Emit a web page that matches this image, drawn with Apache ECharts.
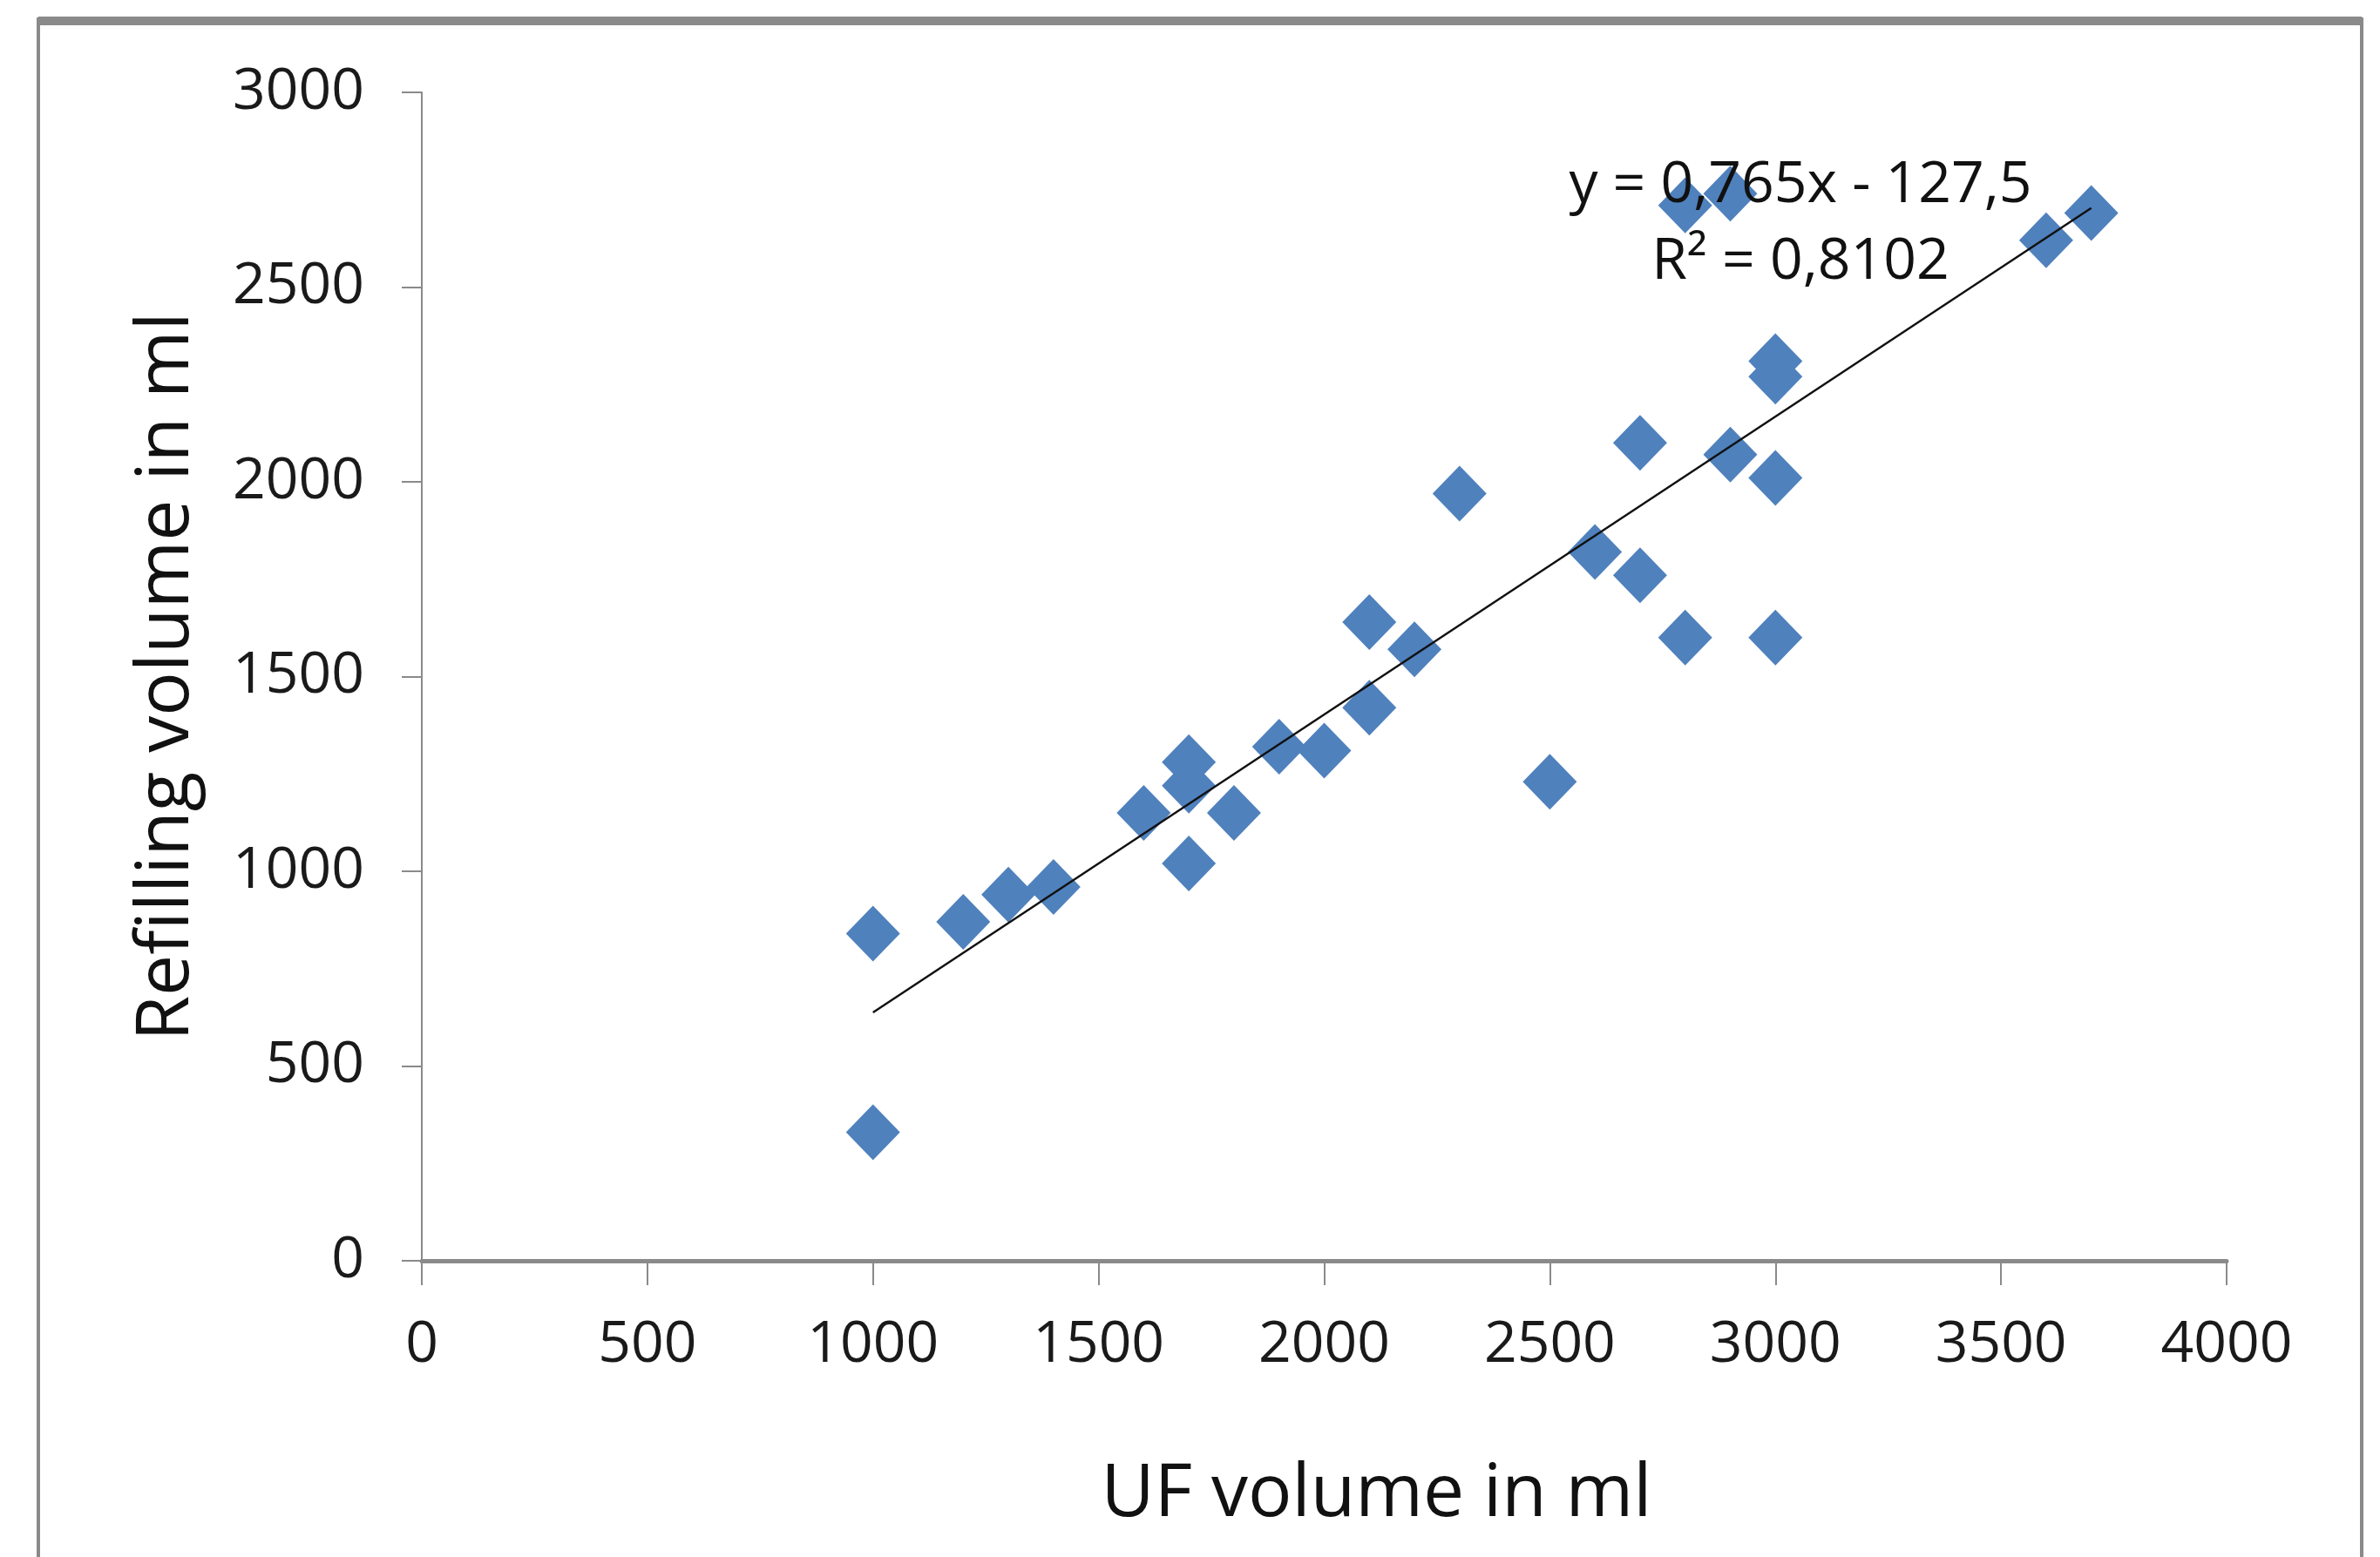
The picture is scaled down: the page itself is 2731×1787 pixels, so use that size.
<!DOCTYPE html>
<html>
<head>
<meta charset="utf-8">
<script src="https://cdn.jsdelivr.net/npm/echarts@6/dist/echarts.min.js"></script>
<style>
html,body{margin:0;padding:0;background:#fff;}
#chart{width:2731px;height:1787px;}
</style>
</head>
<body>
<div id="chart"></div>
<script>
// UF volume (x) and refilling volume (y)
const ufVolume = [1000,1000,1200,1300,1400,1600,1700,1700,1700,1800,1900,2000,2100,2100,2200,2300,2500,2600,2700,2700,2800,2800,2900,2900,3000,3000,3000,3000,3600,3700];
const refillVolume = [840,330,870,940,960,1150,1280,1220,1020,1150,1320,1310,1640,1420,1570,1970,1230,1820,2100,1760,1600,2710,2740,2070,2310,2270,2010,1600,2620,2690];
// trendline as labelled on the chart
const trendSlope = 0.765;
const trendIntercept = -127.5;
const trendLabel = ["y = 0,765x - 127,5", "R\u00B2 = 0,8102"];
const xTicks = [0,500,1000,1500,2000,2500,3000,3500,4000];
const yTicks = [0,500,1000,1500,2000,2500,3000];
const xTitle = "UF volume in ml";
const yTitle = "Refilling volume in ml";

const pts = ufVolume.map((x,i)=>[x, refillVolume[i]]);
const xMin = Math.min(...ufVolume), xMax = Math.max(...ufVolume);
const trend = [[xMin, trendSlope*xMin+trendIntercept],[xMax, trendSlope*xMax+trendIntercept]];

const FONT = "'Open Sans', 'Noto Sans', sans-serif";
const plain = v => String(v);
const chart = echarts.init(document.getElementById('chart'));
chart.setOption({
  animation:false,
  backgroundColor:'#fff',
  grid:{left:484, right:176, top:106, bottom:340},
  xAxis:{
    type:'value', min:0, max:xTicks[xTicks.length-1], interval:500,
    splitLine:{show:false},
    axisLine:{show:true, onZero:false, lineStyle:{color:'#8a8a8a', width:5}},
    axisTick:{show:true, length:28, lineStyle:{color:'#8a8a8a', width:2}},
    axisLabel:{fontSize:66, fontFamily:FONT, color:'#1a1a1a', margin:97, verticalAlign:'middle', formatter:plain},
    name:xTitle, nameLocation:'middle', nameGap:269,
    nameTextStyle:{fontSize:84, fontFamily:FONT, color:'#111', verticalAlign:'middle', padding:[0,0,0,120]}
  },
  yAxis:{
    type:'value', min:0, max:yTicks[yTicks.length-1], interval:500,
    splitLine:{show:false},
    axisLine:{show:true, onZero:false, lineStyle:{color:'#8a8a8a', width:2}},
    axisTick:{show:true, length:23, lineStyle:{color:'#8a8a8a', width:2}},
    axisLabel:{fontSize:66, fontFamily:FONT, color:'#1a1a1a', margin:66, formatter:plain},
    name:yTitle, nameLocation:'middle', nameGap:292,
    nameTextStyle:{fontSize:84, fontFamily:FONT, color:'#111', verticalAlign:'middle'}
  },
  series:[
    {type:'scatter', data:pts, symbol:'diamond', symbolSize:[62,64],
     itemStyle:{color:'#4F81BD', opacity:1}, z:2},
    {type:'line', data:trend, symbol:'none', lineStyle:{color:'#111', width:2.5}, z:3, silent:true}
  ],
  graphic:[
    {type:'line', shape:{x1:44,y1:24,x2:2710,y2:24}, style:{stroke:'#8a8a8a', lineWidth:10}},
    {type:'line', shape:{x1:44,y1:20,x2:44,y2:1800}, style:{stroke:'#8a8a8a', lineWidth:4}},
    {type:'line', shape:{x1:2710,y1:20,x2:2710,y2:1800}, style:{stroke:'#8a8a8a', lineWidth:4}},
    {type:'text', x:2066, y:213, z:10, style:{text:trendLabel[0], fontSize:66, fontFamily:FONT, fill:'#111', align:'center', verticalAlign:'middle'}},
    {type:'text', x:2066, y:301, z:10, style:{text:trendLabel[1], fontSize:66, fontFamily:FONT, fill:'#111', align:'center', verticalAlign:'middle'}}
  ]
});
</script>
</body>
</html>
